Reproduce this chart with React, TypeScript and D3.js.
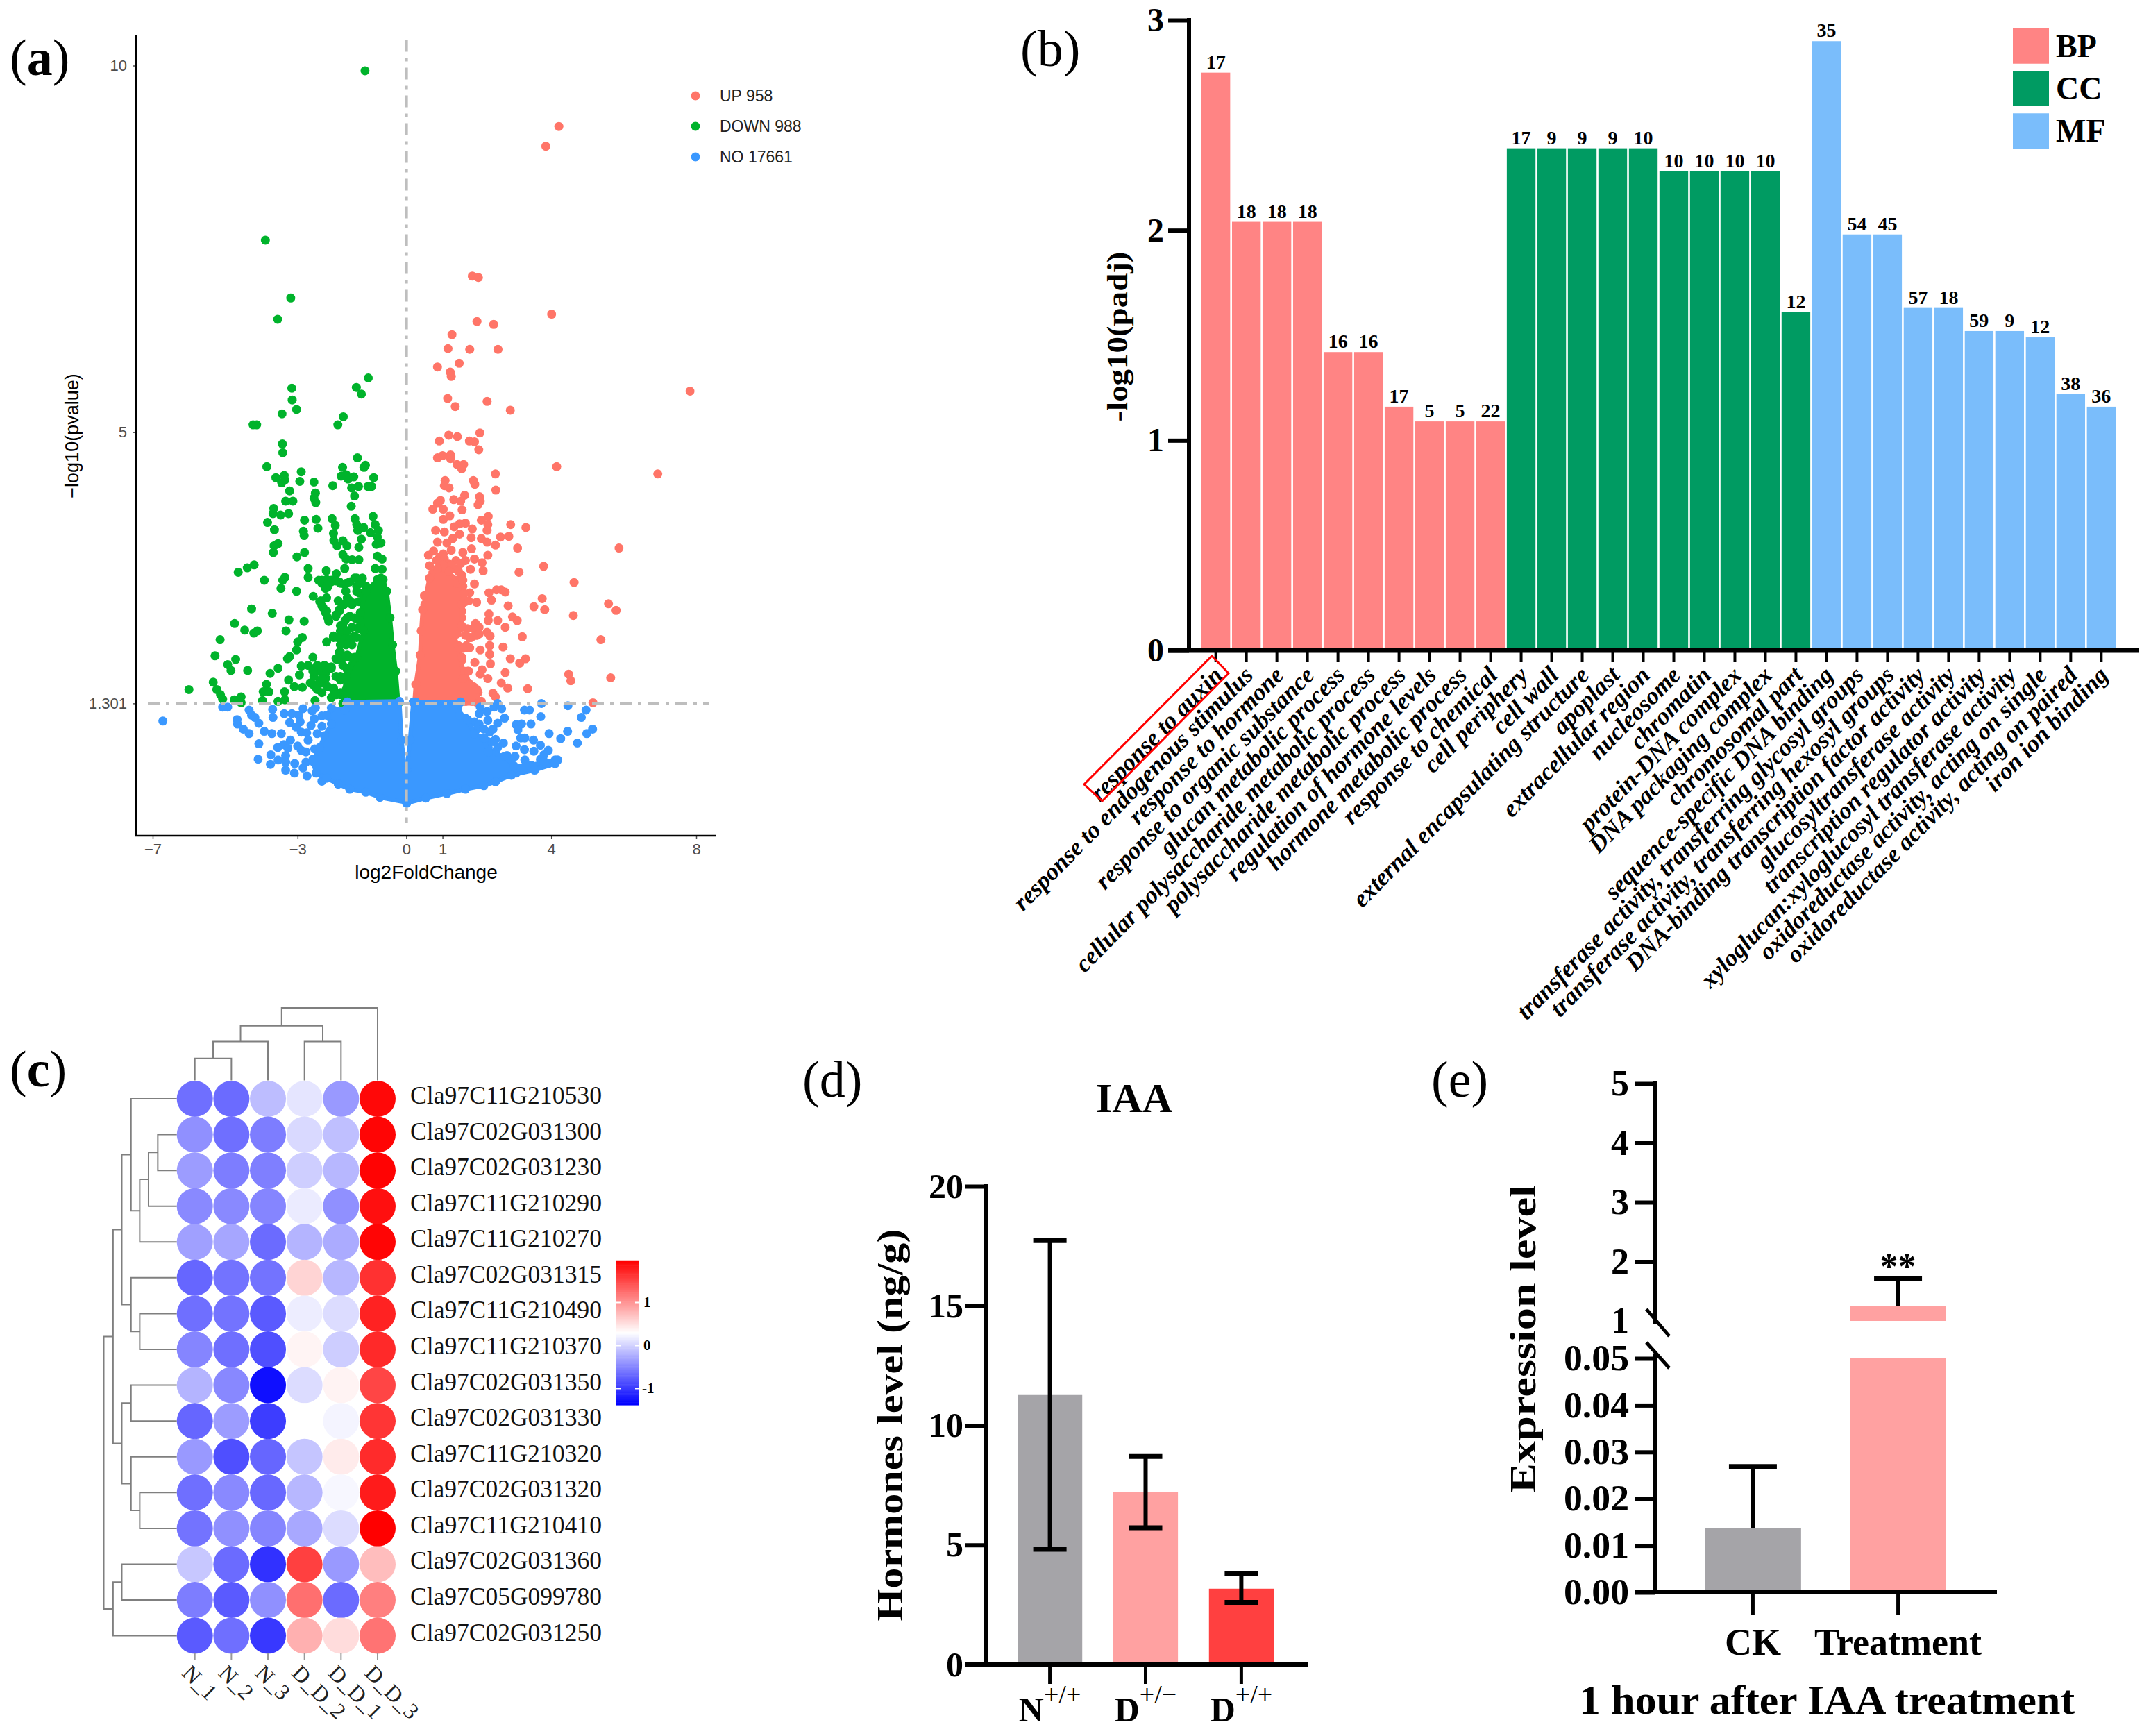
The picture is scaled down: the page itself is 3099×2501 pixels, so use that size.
import React, { useEffect, useRef } from 'react';
import * as d3 from 'd3';

type Pt = [number, number];
type Sel = d3.Selection<any, unknown, null, undefined>;
type TreeNode = number | [number, TreeNode, TreeNode];

// (a) volcano, [log2FoldChange, -log10(pvalue)]
const upPoints: Pt[] = [[4.21,9.17],[3.85,8.9],[1.82,7.13],[1.99,7.11],[4.01,6.61],[1.95,6.51],[2.41,6.47],[1.26,6.33],[1.15,6.14],[1.75,6.13],[2.53,6.13],[1.46,5.94],[.86,5.89],[1.21,5.82],[1.24,5.76],[7.83,5.56],[1.14,5.46],[2.23,5.42],[1.35,5.35],[2.87,5.3],[2.03,4.99],[1.17,4.96],[1.41,4.94],[.91,4.88],[1.74,4.88],[1.88,4.87],[2,4.76],[.86,4.65],[1,4.68],[1.22,4.69],[1.22,4.64],[1.4,4.56],[1.58,4.56],[1.53,4.5],[4.15,4.53],[6.94,4.43],[2.46,4.43],[1.07,4.34],[1.85,4.34],[1.89,4.29],[1.05,4.27],[1.18,4.24],[2.47,4.21],[1.61,4.14],[2.02,4.12],[.94,4.07],[1.31,4.08],[1.5,4.06],[2.04,4.06],[1.98,4.01],[.86,4.03],[.73,3.95],[1.02,3.95],[1.54,3.94],[2.26,3.85],[1.2,3.86],[1.02,3.81],[2.07,3.8],[1.63,3.76],[1.47,3.75],[1.32,3.71],[2.25,3.74],[2.88,3.74],[3.3,3.7],[.81,3.66],[1.05,3.64],[1.82,3.68],[2.23,3.66],[1.47,3.61],[1.79,3.56],[1.28,3.55],[2.07,3.55],[.86,3.5],[1.12,3.49],[2.23,3.5],[2.6,3.57],[2.83,3.58],[2.46,3.46],[1.8,3.41],[3.07,3.42],[5.87,3.42],[1.24,3.39],[.75,3.38],[.61,3.32],[1.02,3.34],[1.56,3.36],[2.25,3.32],[.89,3.27],[1.37,3.25],[1.88,3.27],[1.63,3.25],[2.09,3.22],[.64,3.18],[1.18,3.2],[1.77,3.13],[1.38,3.13],[2.12,3.11],[3.79,3.17],[3.11,3.09],[4.63,2.95],[1.88,2.93],[1.53,3.05],[2.28,2.81],[2.49,2.85],[2.62,2.85],[2.73,2.82],[2.35,2.71],[1.75,2.81],[.5,2.77],[3.75,2.73],[1.94,2.68],[2.81,2.63],[3.52,2.62],[3.82,2.58],[5.58,2.66],[5.79,2.57],[4.61,2.5],[2.28,2.52],[2.93,2.48],[3.06,2.43],[2.26,2.43],[2.52,2.43],[1.91,2.39],[2.73,2.34],[2.23,2.27],[2.31,2.22],[3.2,2.21],[5.37,2.17],[1.95,2.23],[1.75,2.2],[2.67,2.07],[2.3,2.09],[2.04,2.03],[1.69,2.06],[2.3,1.97],[2.87,1.91],[3.29,1.91],[3.13,1.85],[1.89,1.86],[2.32,1.84],[1.72,1.74],[2.09,1.76],[2.04,1.7],[2.73,1.72],[4.48,1.7],[4.54,1.61],[5.64,1.65],[2.25,1.64],[2.62,1.58],[2.8,1.51],[3.35,1.5],[1.98,1.45],[2.39,1.44],[2.46,1.39],[5.15,1.31],[2.07,1.33]];
const upClusterPoints: Pt[] = [[1.44,2.83],[1.56,2.78],[1.63,2.69],[1.72,2.7],[1.53,2.56],[1.44,2.47],[1.53,2.47],[1.37,2.41],[1.53,2.34],[1.69,2.32],[1.85,2.32],[2.01,2.34],[1.91,2.23],[1.79,2.2],[2.01,2.25],[1.63,2.23],[1.4,2.25],[1.24,2.22],[1.44,2.09],[1.66,2.09],[1.75,2.06],[1.56,2.05],[1.44,1.94],[1.53,1.89],[1.69,1.74],[1.6,1.74],[1.5,1.71],[1.63,1.64],[1.72,1.58],[1.85,1.53],[1.91,1.45],[1.75,1.45],[1.56,1.42],[1.44,1.49],[1.88,1.4],[1.63,1.33],[1.82,1.33],[.7,2.83],[.77,2.87],[.51,2.65],[.54,2.54],[.57,2.61],[.7,2.74],[.73,3.08],[.86,3.1],[.99,3.12],[1.12,3.1],[.7,3.01],[.83,2.99],[1.24,3.01],[1.37,2.98],[1.53,2.98],[1.56,2.9],[1.44,3.1],[.93,3.3],[1.05,3.27],[.83,3.25],[1.5,3.21],[1.24,3.19],[1.02,3.19]];
const downPoints: Pt[] = [[-1.14,9.93],[-3.89,7.62],[-3.19,6.83],[-3.55,6.54],[-1.05,5.74],[-3.16,5.6],[-1.38,5.61],[-1.24,5.52],[-3.15,5.44],[-3.03,5.31],[-3.43,5.25],[-1.74,5.21],[-1.89,5.1],[-4.23,5.1],[-4.13,5.1],[-3.42,4.84],[-3.41,4.72],[-1.35,4.65],[-3.85,4.53],[-1.13,4.55],[-1.17,4.52],[-1.76,4.52],[-2.9,4.46],[-1.8,4.4],[-3.37,4.41],[-3.6,4.38],[-3.35,4.35],[-3.44,4.31],[-1.66,4.42],[-1.61,4.36],[-1.45,4.39],[-.9,4.38],[-2.55,4.32],[-2.94,4.33],[-2.03,4.27],[-1.51,4.24],[-1.32,4.26],[-1.06,4.26],[-.96,4.26],[-3.22,4.2],[-2.51,4.17],[-1.43,4.13],[-2.55,4.1],[-3.33,4.06],[-3.13,4.06],[-2.5,4.04],[-1.52,3.99],[-3.66,3.96],[-3.68,3.89],[-3.47,3.87],[-3.25,3.89],[-.92,3.85],[-3.83,3.77],[-2.81,3.8],[-2.49,3.81],[-2.05,3.82],[-1.42,3.82],[-1.96,3.73],[-1.37,3.74],[-.86,3.74],[-3.64,3.67],[-2.44,3.69],[-2.84,3.65],[-2.82,3.59],[-2.01,3.62],[-1.34,3.66],[-1.18,3.7],[-.99,3.63],[-.77,3.66],[-1.24,3.54],[-.8,3.57],[-2,3.52],[-1.75,3.52],[-1.91,3.45],[-1.64,3.45],[-.83,3.47],[-.7,3.49],[-1.31,3.43],[-3.54,3.48],[-3.65,3.45],[-3.67,3.36],[-2.81,3.36],[-3.02,3.3],[-1.75,3.33],[-1.66,3.27],[-1.5,3.26],[-1.31,3.26],[-.8,3.31],[-.67,3.27],[-4.2,3.19],[-4.39,3.15],[-4.64,3.09],[-2.71,3.14],[-2.21,3.11],[-1.7,3.14],[-.86,3.14],[-.67,3.13],[-1.93,3.07],[-3.35,3.02],[-3.41,2.98],[-3.92,2.98],[-2.71,3.02],[-2.33,2.98],[-2.2,2.99],[-2.07,2.98],[-1.85,2.96],[-1.66,2.94],[-1.43,3.01],[-1.21,3.01],[-.7,3.01],[-3.46,2.87],[-2.17,2.89],[-1.37,2.9],[-3.03,2.83],[-1.67,2.83],[-1.31,2.81],[-2.57,2.76],[-2.36,2.7],[-2.2,2.74],[-1.88,2.7],[-1.63,2.74],[-2.33,2.63],[-1.72,2.65],[-1.47,2.67],[-2.2,2.56],[-1.85,2.56],[-4.27,2.59],[-3.7,2.53],[-1.94,2.49],[-2.14,2.42],[-3.24,2.44],[-2.82,2.42],[-4.74,2.39],[-1.63,2.47],[-1.37,2.45],[-1.75,2.34],[-1.31,2.34],[-4.46,2.3],[-4.21,2.26],[-4.11,2.29],[-3.32,2.29],[-5.14,2.17],[-2.87,2.2],[-3,2.14],[-2.01,2.2],[-2.2,2.14],[-1.72,2.22],[-1.43,2.22],[-3.03,2.03],[-5.28,1.95],[-1.82,2],[-1.63,1.96],[-3.22,1.94],[-3.28,1.91],[-1.92,1.9],[-1.43,1.93],[-2.58,1.93],[-4.71,1.9],[-4.93,1.83],[-4.84,1.75],[-4.38,1.75],[-3.54,1.78],[-3.76,1.71],[-2.9,1.81],[-2.71,1.82],[-2.52,1.78],[-2.2,1.8],[-2.07,1.8],[-2.39,1.74],[-1.63,1.76],[-2.95,1.69],[-5.33,1.59],[-3.25,1.62],[-2.55,1.67],[-2.23,1.65],[-1.82,1.67],[-2.58,1.56],[-2.33,1.58],[-5.23,1.49],[-6,1.49],[-5.13,1.42],[-3.09,1.53],[-2.87,1.52],[-3.86,1.56],[-3.95,1.46],[-3.36,1.46],[-3.79,1.46],[-2.46,1.49],[-2.01,1.51],[-1.82,1.42],[-4.56,1.39],[-4.75,1.35],[-4.56,1.31],[-3.97,1.34],[-3.54,1.33],[-3.35,1.35],[-2.52,1.34],[-2.07,1.38],[-5.07,1.36]];
const downClusterPoints: Pt[] = [[-2.42,2.98],[-2.33,2.94],[-2.2,2.9],[-2.07,2.96],[-1.94,2.97],[-1.82,2.94],[-1.69,2.92],[-1.56,2.96],[-1.37,3.01],[-1.24,2.94],[-1.11,2.9],[-1.37,2.83],[-2.23,2.87],[-2.39,2.69],[-2.3,2.61],[-2.23,2.54],[-2.17,2.47],[-1.94,2.51],[-1.85,2.58],[-1.75,2.65],[-1.56,2.7],[-1.5,2.65],[-1.31,2.69],[-1.18,2.76],[-1.82,2.36],[-1.69,2.43],[-1.56,2.49],[-1.43,2.47],[-1.31,2.47],[-1.82,2.29],[-1.63,2.29],[-1.5,2.34],[-1.31,2.32],[-2.01,2.22],[-1.91,2.2],[-1.82,2.2],[-1.69,2.18],[-1.56,2.18],[-1.37,2.2],[-1.5,2.1],[-1.66,2.1],[-1.82,2.1],[-1.85,2],[-1.94,1.91],[-1.78,1.91],[-1.66,1.94],[-1.56,1.93],[-1.47,1.91],[-1.75,1.82],[-1.63,1.78],[-1.5,1.82],[-1.37,1.85],[-2.26,1.82],[-2.13,1.78],[-2.2,1.74],[-2.23,1.64],[-2.07,1.78],[-1.94,1.67],[-1.82,1.62],[-1.69,1.64],[-2.65,1.58],[-2.52,1.53],[-2.39,1.6],[-2.17,1.53],[-2.01,1.49],[-2.33,1.45],[-1.82,1.45],[-1.94,1.42],[-1.66,1.49],[-1.56,1.56],[-1.43,1.64],[-2.58,1.74],[-2.46,1.82],[-2.33,1.64]];
const noPoints: Pt[] = [[-6.72,1.06],[-5.07,1.25],[-4.93,1.25],[-4.34,1.21],[-4.27,1.14],[-4.18,1.11],[-4.07,1.03],[-4.67,1.08],[-4.66,1.02],[-4.5,.95],[-4.34,.89],[-3.92,.92],[-3.71,.89],[-3.45,.89],[-3.69,1.22],[-3.68,1.11],[-3.37,1.16],[-3.16,1.16],[-2.97,1.14],[-2.85,1.23],[-3.22,1.04],[-2.93,1.05],[-3.04,.98],[-2.9,.91],[-2.75,.9],[-3.2,.8],[-2.71,.8],[-4.07,.75],[-3.38,.74],[-3.55,.7],[-3.27,.69],[-3,.72],[-2.9,.66],[-2.77,.64],[-2.53,.68],[-3.33,.59],[-3.74,.6],[-4.09,.54],[-3.54,.53],[-3.33,.5],[-3.75,.47],[-3.08,.48],[-2.77,.5],[-3.33,.39],[-3.09,.35],[-2.85,.42],[-2.74,.31],[-2.6,1.2],[-2.51,1.24],[-2.54,1.09],[-2.63,1],[-2.46,.89],[-2.33,.24],[-2.58,.54],[-2.33,1.13],[-2.33,.99],[2.04,1.25],[2.23,1.19],[2.42,1.25],[2.63,1.23],[2.52,1.3],[2.01,1.16],[2.25,1.07],[2.71,1.1],[2.52,1.03],[3.03,1.01],[3.18,1.02],[3.08,.94],[3.44,1.02],[3.26,1.21],[3.4,1.21],[3.73,1.3],[3.71,1.12],[4.46,1.27],[4.96,1.21],[4.83,1.11],[5.14,.95],[4.98,.89],[4.45,.92],[4.26,.82],[4.72,.76],[3.94,.89],[3.16,.83],[3.27,.83],[3.51,.8],[3.7,.73],[2.68,.76],[3.03,.72],[3.26,.67],[3.52,.65],[3.92,.66],[3.8,.6],[3,.58],[3.27,.53],[2.78,.59],[3.7,.54],[4.11,.53],[3.92,.48],[3.48,.45],[2.02,.75],[2.26,.78],[2.46,.81],[2.3,.91],[1.88,1.05],[1.63,1.1],[2.01,1.02],[1.95,.95],[2.14,.95],[2.39,.95],[2.39,.78],[2.52,.7],[2.26,.7],[2.46,.64],[2.9,.54],[2.78,.48],[3.09,.42],[2.46,.51],[2.58,.43],[3.03,.35],[3.29,.42]];
// outlines of the regions where the dots merge into a solid mass
const upMass: Pt[] = [[.22,1.3],[.26,1.56],[.38,1.96],[.41,2.29],[.45,2.58],[.64,3.01],[.86,3.14],[1.18,3.1],[1.4,2.94],[1.56,2.98],[1.59,2.8],[1.53,2.65],[1.53,2.36],[1.31,2.14],[1.53,1.93],[1.56,1.64],[1.95,1.49],[1.98,1.3]];
const downMass: Pt[] = [[-.22,1.3],[-.29,1.74],[-.38,2.1],[-.45,2.47],[-.54,2.83],[-.64,2.99],[-.8,2.99],[-1.11,2.83],[-1.27,2.54],[-1.18,2.29],[-1.37,1.93],[-1.66,1.67],[-1.75,1.3]];
const noMassLeft: Pt[] = [[-1.63,1.32],[-1.69,1.21],[-2.07,1.24],[-2.2,1.14],[-2.07,1.02],[-2.26,.86],[-2.39,.7],[-2.58,.51],[-2.49,.35],[-2.2,.28],[-1.88,.2],[-1.56,.13],[-1.12,.09],[-.73,.02],[0,-.05],[-.04,.39],[-.13,.8],[-.19,1.33]];
const noMassRight: Pt[] = [[.26,1.32],[1.5,1.32],[1.47,1.14],[1.69,1.08],[1.88,.89],[2.14,.83],[2.26,.64],[2.71,.58],[2.97,.45],[3.41,.45],[3.8,.51],[4.18,.53],[4.11,.48],[3.54,.39],[2.9,.32],[2.46,.23],[2.14,.18],[1.63,.13],[1.12,.07],[.54,.01],[.01,-.06],[.01,.39],[.1,.8],[.19,1.32]];
const volcanoXTicks = [-7, -3, 0, 1, 4, 8];
const volcanoYTicks = [1.301, 5, 10];
const volcanoLegend = ['UP 958', 'DOWN 988', 'NO 17661'];

// (b) GO enrichment
const goTerms = [
  'response to auxin', 'response to endogenous stimulus', 'response to hormone', 'response to organic substance',
  'glucan metabolic process', 'cellular polysaccharide metabolic process', 'polysaccharide metabolic process',
  'regulation of hormone levels', 'hormone metabolic process', 'response to chemical',
  'cell periphery', 'cell wall', 'external encapsulating structure', 'apoplast', 'extracellular region',
  'nucleosome', 'chromatin', 'protein-DNA complex', 'DNA packaging complex', 'chromosomal part',
  'sequence-specific DNA binding', 'transferase activity, transferring glycosyl groups',
  'transferase activity, transferring hexosyl groups', 'DNA-binding transcription factor activity',
  'glucosyltransferase activity', 'transcription regulator activity', 'xyloglucan:xyloglucosyl transferase activity',
  'oxidoreductase activity, acting on single', 'oxidoreductase activity, acting on paired', 'iron ion binding',
];
const goPadj = [2.75,2.04,2.04,2.04,1.42,1.42,1.16,1.09,1.09,1.09,2.39,2.39,2.39,2.39,2.39,2.28,2.28,2.28,2.28,1.61,2.9,1.98,1.98,1.63,1.63,1.52,1.52,1.49,1.22,1.16];
const goCounts = [17,18,18,18,16,16,17,5,5,22,17,9,9,9,10,10,10,10,10,12,35,54,45,57,18,59,9,12,38,36];
const goGroups = ['BP', 'CC', 'MF'];
const goGroupColors = ['#FF8484', '#009B62', '#7ABDFB'];
const groupSize = 10;

// (c) heatmap
const geneNames = ['Cla97C11G210530','Cla97C02G031300','Cla97C02G031230','Cla97C11G210290','Cla97C11G210270','Cla97C02G031315','Cla97C11G210490','Cla97C11G210370','Cla97C02G031350','Cla97C02G031330','Cla97C11G210320','Cla97C02G031320','Cla97C11G210410','Cla97C02G031360','Cla97C05G099780','Cla97C02G031250'];
const sampleNames = ['N_1', 'N_2', 'N_3', 'D_D_2', 'D_D_1', 'D_D_3'];
const heatValues = [
  [-.65,-.68,-.14,.12,-.38,1.91],
  [-.44,-.65,-.56,.04,-.13,1.93],
  [-.36,-.56,-.55,-.03,-.18,1.94],
  [-.48,-.48,-.51,.16,-.44,1.86],
  [-.33,-.29,-.68,-.2,-.26,1.93],
  [-.71,-.63,-.63,.57,-.18,1.64],
  [-.65,-.63,-.79,.17,.06,1.74],
  [-.51,-.65,-.86,.36,-.04,1.69],
  [-.2,-.49,-1.28,.06,.37,1.51],
  [-.71,-.36,-.98,.29,.22,1.61],
  [-.38,-.86,-.71,-.09,.42,1.68],
  [-.65,-.48,-.7,-.18,.24,1.78],
  [-.63,-.44,-.51,-.28,.06,1.96],
  [-.08,-.68,-1.06,1.54,-.38,.72],
  [-.56,-.79,-.44,1.23,-.68,1.13],
  [-.79,-.65,-1.01,.81,.52,1.21],
];
const colTree: TreeNode = [1, [.755, [.536, [.305, 0, 1], 2], [.536, 3, 4]], 5];
const rowTree: TreeNode = [1,
  [.873,
    [.753, [.627, 0, [.507, [.387, [.26, 1, 2], 3], 4]], [.627, 5, [.507, 6, 7]]],
    [.753, [.627, 8, 9], [.627, 10, [.507, 11, 12]]]],
  [.873, [.753, 13, 14], 15]];
const heatRange = [-1.38, .29, 1.96];
const heatTicks = [-1, 0, 1];

// (d) hormones
const hormoneGroups = ['N', 'D+-', 'D++'];
const hormoneMean = [11.27, 7.2, 3.17];
const hormoneLow = [4.82, 5.72, 2.6];
const hormoneHigh = [17.73, 8.7, 3.8];
const hormoneColors = ['#A5A4A8', '#FFA1A1', '#FF4040'];
const hormoneSup = ['+/+', '+/\u2212', '+/+'];
const hormoneBase = ['N', 'D', 'D'];

// (e) expression, broken axis
const exprGroups = ['CK', 'Treatment'];
const exprMean = [.01365, 1.25];
const exprHigh = [.0269, 1.72];
const exprColors = ['#A5A4A8', '#FFA1A1'];
const exprLowTicks = [0, .01, .02, .03, .04, .05];
const exprHighTicks = [1, 2, 3, 4, 5];

const SERIF = '"Liberation Serif", serif';
const SANS = '"Liberation Sans", sans-serif';

function panelLabel(g: Sel, x: number, y: number, letter: string, bold = true) {
  const t = g.append('text').attr('x', x).attr('y', y).attr('font-family', SERIF).attr('font-size', 74).attr('fill', '#000');
  t.append('tspan').text('(');
  t.append('tspan').attr('font-weight', bold ? 700 : 400).text(letter);
  t.append('tspan').text(')');
}

function styleAxis(a: Sel, width: number, font: string, size: number, weight: number, color: string) {
  a.select('.domain').remove();
  a.selectAll('.tick line').attr('stroke', color).attr('stroke-width', width);
  a.selectAll('.tick text').attr('font-family', font).attr('font-size', size).attr('font-weight', weight).attr('fill', color);
}

function drawVolcano(g: Sel) {
  const x = d3.scaleLinear([-7, 8], [220, 1003]);
  const y = d3.scaleLinear([0, 10], [1150.8, 94.5]);
  const massLine = d3.line<Pt>().x((d) => x(d[0])).y((d) => y(d[1])).curve(d3.curveLinearClosed);
  const dots = (pts: Pt[], color: string) => g.append('g').selectAll('circle').data(pts).join('circle')
    .attr('cx', (d) => x(d[0])).attr('cy', (d) => y(d[1])).attr('r', 6.5).attr('fill', color);
  const mass = (pts: Pt[], color: string) => {
    g.append('path').attr('d', massLine(pts)).attr('fill', color).attr('stroke', color).attr('stroke-width', 6).attr('stroke-linejoin', 'round');
    dots(pts, color);
  };

  const colors = ['#FF7568', '#00B32B', '#3A98FF'];
  dots(downPoints, colors[1]);
  dots(downClusterPoints, colors[1]);
  mass(downMass, colors[1]);
  dots(upPoints, colors[0]);
  dots(upClusterPoints, colors[0]);
  mass(upMass, colors[0]);
  dots(noPoints, colors[2]);
  mass(noMassLeft, colors[2]);
  mass(noMassRight, colors[2]);

  const dash = '17 9 5 9';
  g.append('line').attr('x1', x(0)).attr('x2', x(0)).attr('y1', y(10.35)).attr('y2', 1186)
    .attr('stroke', '#BEBEBE').attr('stroke-width', 4.5).attr('stroke-dasharray', dash);
  g.append('line').attr('x1', 213).attr('x2', 1021).attr('y1', y(1.301)).attr('y2', y(1.301))
    .attr('stroke', '#BEBEBE').attr('stroke-width', 4.5).attr('stroke-dasharray', dash);

  const ax = g.append('g').attr('transform', 'translate(0,1204)')
    .call(d3.axisBottom(x).tickValues(volcanoXTicks).tickSize(5).tickPadding(6).tickFormat((d) => (+d < 0 ? '\u2212' : '') + Math.abs(+d)));
  styleAxis(ax, 1.5, SANS, 22, 400, '#4D4D4D');
  const ay = g.append('g').attr('transform', 'translate(196,0)')
    .call(d3.axisLeft(y).tickValues(volcanoYTicks).tickSize(5).tickPadding(8).tickFormat((d) => String(d)));
  styleAxis(ay, 1.5, SANS, 22, 400, '#4D4D4D');
  g.append('path').attr('d', `M196,50V1204H1032`).attr('fill', 'none').attr('stroke', '#000').attr('stroke-width', 2.5);

  g.append('text').attr('x', 614).attr('y', 1266).attr('text-anchor', 'middle').attr('font-family', SANS)
    .attr('font-size', 28).text('log2FoldChange');
  g.append('text').attr('transform', 'translate(113,628) rotate(-90)').attr('text-anchor', 'middle').attr('font-family', SANS)
    .attr('font-size', 27).text('\u2212log10(pvalue)');

  const legendY = d3.scalePoint(volcanoLegend, [138, 226]);
  volcanoLegend.forEach((name, i) => {
    g.append('circle').attr('cx', 1002).attr('cy', legendY(name)!).attr('r', 6.5).attr('fill', colors[i]);
    g.append('text').attr('x', 1037).attr('y', legendY(name)! + 8).attr('font-family', SANS).attr('font-size', 23)
      .attr('fill', '#222').text(name);
  });
  panelLabel(g, 14, 108, 'a');
}

function drawGo(g: Sel) {
  const x = d3.scaleBand(goTerms, [1731, 3048]).paddingInner(0.06);
  const y = d3.scaleLinear([0, 3], [937, 29]);
  g.selectAll('rect.bar').data(goTerms).join('rect').attr('class', 'bar')
    .attr('x', (d) => x(d)!).attr('width', x.bandwidth())
    .attr('y', (_, i) => y(goPadj[i])).attr('height', (_, i) => y(0) - y(goPadj[i]))
    .attr('fill', (_, i) => goGroupColors[Math.floor(i / groupSize)]);
  g.selectAll('text.count').data(goTerms).join('text').attr('class', 'count')
    .attr('x', (d) => x(d)! + x.bandwidth() / 2).attr('y', (_, i) => y(goPadj[i]) - 6)
    .attr('text-anchor', 'middle').attr('font-family', SERIF).attr('font-weight', 700).attr('font-size', 28)
    .text((_, i) => goCounts[i]);

  const ay = g.append('g').attr('transform', 'translate(1713,0)')
    .call(d3.axisLeft(y).tickValues([0, 1, 2, 3]).tickSize(30).tickPadding(6).tickFormat(d3.format('d')));
  styleAxis(ay, 6, SERIF, 48, 700, '#000');
  const ax = g.append('g').attr('transform', 'translate(0,937)')
    .call(d3.axisBottom(x).tickSize(17));
  styleAxis(ax, 4, SERIF, 35, 700, '#000');
  ax.selectAll('.tick text').attr('font-style', 'italic').attr('text-anchor', 'end').attr('dy', '.35em')
    .attr('x', 0).attr('y', 0).attr('transform', 'translate(3,29) rotate(-45.5)');
  g.append('line').attr('x1', 1713).attr('x2', 1713).attr('y1', y(3) - 3).attr('y2', y(0)).attr('stroke', '#000').attr('stroke-width', 6);
  g.append('line').attr('x1', 1683).attr('x2', 3082).attr('y1', y(0)).attr('y2', y(0)).attr('stroke', '#000').attr('stroke-width', 7);

  // red box round the first term
  g.append('polygon').attr('points', '1746,945 1770,970 1588,1154 1562,1130').attr('fill', 'none')
    .attr('stroke', '#FF0000').attr('stroke-width', 3);

  g.append('text').attr('transform', 'translate(1624,485) rotate(-90)').attr('text-anchor', 'middle')
    .attr('font-family', SERIF).attr('font-weight', 700).attr('font-size', 42).attr('textLength', 245)
    .attr('lengthAdjust', 'spacingAndGlyphs').text('-log10(padj)');

  const legendY = d3.scaleBand(goGroups, [41, 214]).paddingInner(0.17);
  goGroups.forEach((name, i) => {
    g.append('rect').attr('x', 2900).attr('y', legendY(name)!).attr('width', 52).attr('height', legendY.bandwidth()).attr('fill', goGroupColors[i]);
    g.append('text').attr('x', 2962).attr('y', legendY(name)! + 41).attr('font-family', SERIF).attr('font-weight', 700)
      .attr('font-size', 46).text(name);
  });
  panelLabel(g, 1470, 95, 'b', false);
}

function walkTree(node: TreeNode, leafPos: (i: number) => number, segs: (h: number, a: number, b: number, ha: number, hb: number) => void): [number, number] {
  if (typeof node === 'number') return [leafPos(node), 0];
  const [h, left, right] = node;
  const [a, ha] = walkTree(left, leafPos, segs);
  const [b, hb] = walkTree(right, leafPos, segs);
  segs(h, a, b, ha, hb);
  return [(a + b) / 2, h];
}

function drawHeat(g: Sel) {
  const x = d3.scalePoint(sampleNames, [280.7, 544]);
  const y = d3.scalePoint(geneNames, [1583, 2356.6]);
  const color = d3.scaleLinear<string>().domain(heatRange).range(['#0000FF', '#FFFFFF', '#FF0000']);

  const rows = g.append('g').selectAll('g').data(heatValues).join('g')
    .attr('transform', (_, i) => `translate(0,${y(geneNames[i])})`);
  rows.selectAll('circle').data((d) => d).join('circle')
    .attr('cx', (_, j) => x(sampleNames[j])!).attr('r', 26).attr('fill', (d) => color(d));

  g.selectAll('text.gene').data(geneNames).join('text').attr('class', 'gene')
    .attr('x', 591).attr('y', (d) => y(d)! + 7).attr('font-family', SERIF).attr('font-size', 36)
    .attr('textLength', 276).attr('lengthAdjust', 'spacingAndGlyphs').attr('fill', '#111').text((d) => d);

  // dendrograms
  const treeStroke = (p: string) => g.append('path').attr('d', p).attr('fill', 'none').attr('stroke', '#7F7F7F').attr('stroke-width', 2);
  const rowDepth = d3.scaleLinear([0, 1], [254.7, 149.5]);
  const colDepth = d3.scaleLinear([0, 1], [1556.6, 1452]);
  walkTree(rowTree, (i) => y(geneNames[i])!, (h, a, b, ha, hb) => {
    treeStroke(`M${rowDepth(ha)},${a}H${rowDepth(h)}V${b}H${rowDepth(hb)}`);
  });
  walkTree(colTree, (i) => x(sampleNames[i])!, (h, a, b, ha, hb) => {
    treeStroke(`M${a},${colDepth(ha)}V${colDepth(h)}H${b}V${colDepth(hb)}`);
  });

  g.selectAll('line.stub').data(sampleNames).join('line').attr('class', 'stub')
    .attr('x1', (d) => x(d)!).attr('x2', (d) => x(d)!).attr('y1', 2382).attr('y2', 2392).attr('stroke', '#999').attr('stroke-width', 2);
  g.selectAll('text.sample').data(sampleNames).join('text').attr('class', 'sample')
    .attr('transform', (d) => `translate(${x(d)! - 20},2412) rotate(45)`).attr('font-family', SERIF).attr('font-size', 32)
    .attr('fill', '#222').text((d) => d);

  // colour key
  const keyY = d3.scaleLinear([heatRange[0], heatRange[2]], [2024, 1817]);
  const keySteps = d3.range(heatRange[0], heatRange[2], 0.03);
  g.append('g').selectAll('rect').data(keySteps).join('rect').attr('x', 888).attr('width', 33)
    .attr('y', (d) => keyY(d + 0.03)).attr('height', (d) => keyY(d) - keyY(d + 0.03) + 0.6).attr('fill', (d) => color(d));
  heatTicks.forEach((t) => {
    g.append('line').attr('x1', 888).attr('x2', 894).attr('y1', keyY(t)).attr('y2', keyY(t)).attr('stroke', '#fff').attr('stroke-width', 2);
    g.append('line').attr('x1', 915).attr('x2', 921).attr('y1', keyY(t)).attr('y2', keyY(t)).attr('stroke', '#fff').attr('stroke-width', 2);
    g.append('text').attr('x', t < 0 ? 925 : 927).attr('y', keyY(t) + 7).attr('font-family', SERIF).attr('font-weight', 700)
      .attr('font-size', 21).text(t);
  });
  panelLabel(g, 14, 1565, 'c');
}

function errorBar(g: Sel, cx: number, top: number, bottom: number, capBottom: boolean, capWidth: number) {
  g.append('line').attr('x1', cx).attr('x2', cx).attr('y1', top).attr('y2', bottom).attr('stroke', '#000').attr('stroke-width', 6);
  g.append('line').attr('x1', cx - capWidth / 2).attr('x2', cx + capWidth / 2).attr('y1', top).attr('y2', top).attr('stroke', '#000').attr('stroke-width', 7);
  if (capBottom) g.append('line').attr('x1', cx - capWidth / 2).attr('x2', cx + capWidth / 2).attr('y1', bottom).attr('y2', bottom).attr('stroke', '#000').attr('stroke-width', 7);
}

function drawHormones(g: Sel) {
  const x = d3.scaleBand(hormoneGroups, [1466, 1835]).paddingInner(0.324);
  const y = d3.scaleLinear([0, 20], [2398, 1709]);
  g.selectAll('rect').data(hormoneGroups).join('rect').attr('x', (d) => x(d)!).attr('width', x.bandwidth())
    .attr('y', (_, i) => y(hormoneMean[i])).attr('height', (_, i) => y(0) - y(hormoneMean[i])).attr('fill', (_, i) => hormoneColors[i]);
  hormoneGroups.forEach((d, i) => {
    errorBar(g, x(d)! + x.bandwidth() / 2, y(hormoneHigh[i]), y(hormoneLow[i]), true, 48);
  });

  const ay = g.append('g').attr('transform', 'translate(1420,0)')
    .call(d3.axisLeft(y).tickValues([0, 5, 10, 15, 20]).tickSize(29).tickPadding(3).tickFormat(d3.format('d')));
  styleAxis(ay, 6, SERIF, 50, 700, '#000');
  const ax = g.append('g').attr('transform', 'translate(0,2398)').call(d3.axisBottom(x).tickSize(28).tickFormat(() => ''));
  styleAxis(ax, 5, SERIF, 10, 400, '#000');
  g.append('path').attr('d', `M1420,${y(20) - 3}V${y(0)}M1391,${y(0)}H1884`).attr('fill', 'none').attr('stroke', '#000').attr('stroke-width', 6);

  hormoneGroups.forEach((d, i) => {
    const t = g.append('text').attr('x', x(d)! + x.bandwidth() / 2).attr('y', 2480).attr('text-anchor', 'middle').attr('font-family', SERIF);
    t.append('tspan').attr('font-weight', 700).attr('font-size', 50).text(hormoneBase[i]);
    t.append('tspan').attr('font-size', 38).attr('dy', -26).text(hormoneSup[i]);
  });

  g.append('text').attr('x', 1634).attr('y', 1602).attr('text-anchor', 'middle').attr('font-family', SERIF)
    .attr('font-weight', 700).attr('font-size', 60).text('IAA');
  g.append('text').attr('transform', 'translate(1300,2053) rotate(-90)').attr('text-anchor', 'middle').attr('font-family', SERIF)
    .attr('font-weight', 700).attr('font-size', 52).attr('textLength', 565).attr('lengthAdjust', 'spacingAndGlyphs').text('Hormones level (ng/g)');
  panelLabel(g, 1156, 1580, 'd', false);
}

function drawExpression(g: Sel) {
  const x = d3.scaleBand(exprGroups, [2456, 2804]).paddingInner(0.336);
  const yLow = d3.scaleLinear([0, .05], [2294, 1957]);
  const yHigh = d3.scaleLinear([1, 5], [1903, 1561]);
  const cx = (d: string) => x(d)! + x.bandwidth() / 2;

  // CK stays under the break, Treatment is drawn in both segments
  g.append('rect').attr('x', x('CK')!).attr('width', x.bandwidth()).attr('y', yLow(exprMean[0])).attr('height', yLow(0) - yLow(exprMean[0])).attr('fill', exprColors[0]);
  g.append('rect').attr('x', x('Treatment')!).attr('width', x.bandwidth()).attr('y', yLow(.05)).attr('height', yLow(0) - yLow(.05)).attr('fill', exprColors[1]);
  g.append('rect').attr('x', x('Treatment')!).attr('width', x.bandwidth()).attr('y', yHigh(exprMean[1])).attr('height', yHigh(1) - yHigh(exprMean[1])).attr('fill', exprColors[1]);
  errorBar(g, cx('CK'), yLow(exprHigh[0]), yLow(exprMean[0]), false, 69);
  errorBar(g, cx('Treatment'), yHigh(exprHigh[1]), yHigh(exprMean[1]), false, 69);

  const lo = g.append('g').attr('transform', 'translate(2385,0)')
    .call(d3.axisLeft(yLow).tickValues(exprLowTicks).tickSize(30).tickPadding(8).tickFormat(d3.format('.2f')));
  styleAxis(lo, 6, SERIF, 52, 700, '#000');
  lo.selectAll('.tick text').attr('textLength', 94).attr('lengthAdjust', 'spacingAndGlyphs');
  const hi = g.append('g').attr('transform', 'translate(2385,0)')
    .call(d3.axisLeft(yHigh).tickValues(exprHighTicks).tickSize(30).tickPadding(8).tickFormat(d3.format('d')));
  styleAxis(hi, 6, SERIF, 52, 700, '#000');
  hi.selectAll('.tick').filter((d) => d === 1).select('line').remove();
  const ax = g.append('g').attr('transform', 'translate(0,2294)').call(d3.axisBottom(x).tickSize(32).tickFormat(() => ''));
  styleAxis(ax, 5, SERIF, 10, 400, '#000');
  g.append('path').attr('d', `M2385,${yHigh(5) - 3}V1908M2385,1950V${yLow(0)}M2355,${yLow(0)}H2877`).attr('fill', 'none').attr('stroke', '#000').attr('stroke-width', 6);
  g.append('path').attr('d', 'M2372,1886L2405,1925M2372,1934L2405,1971').attr('stroke', '#000').attr('stroke-width', 5);

  g.append('text').attr('x', cx('Treatment')).attr('y', 1842).attr('text-anchor', 'middle').attr('font-family', SERIF)
    .attr('font-weight', 700).attr('font-size', 52).text('**');
  exprGroups.forEach((d) => {
    g.append('text').attr('x', cx(d)).attr('y', 2384).attr('text-anchor', 'middle').attr('font-family', SERIF)
      .attr('font-weight', 700).attr('font-size', 54).text(d);
  });
  g.append('text').attr('x', 2632).attr('y', 2469).attr('text-anchor', 'middle').attr('font-family', SERIF)
    .attr('font-weight', 700).attr('font-size', 60).attr('textLength', 714).attr('lengthAdjust', 'spacingAndGlyphs').text('1 hour after IAA treatment');
  g.append('text').attr('transform', 'translate(2212,1929) rotate(-90)').attr('text-anchor', 'middle').attr('font-family', SERIF)
    .attr('font-weight', 700).attr('font-size', 52).attr('textLength', 444).attr('lengthAdjust', 'spacingAndGlyphs').text('Expression level');
  panelLabel(g, 2062, 1580, 'e', false);
}

const App: React.FC = () => {
  const svgRef = useRef<SVGSVGElement>(null);

  useEffect(() => {
    const svg = d3.select(svgRef.current) as unknown as Sel;
    svg.selectAll('*').remove();
    svg.append('rect').attr('width', 3099).attr('height', 2501).attr('fill', '#fff');
    drawVolcano(svg.append('g'));
    drawGo(svg.append('g'));
    drawHeat(svg.append('g'));
    drawHormones(svg.append('g'));
    drawExpression(svg.append('g'));
    return () => {
      svg.selectAll('*').remove();
    };
  }, []);

  return <svg ref={svgRef} width={3099} height={2501} style={{ position: 'absolute', left: 0, top: 0 }}></svg>;
};

export default App;
